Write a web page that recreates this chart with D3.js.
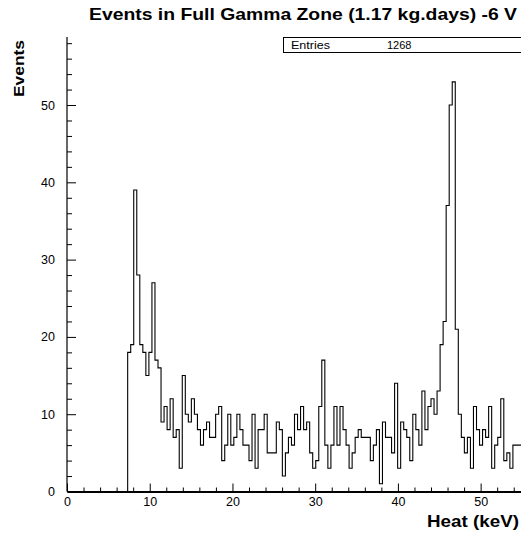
<!DOCTYPE html>
<html><head><meta charset="utf-8">
<script src="https://cdn.jsdelivr.net/npm/d3@7/dist/d3.min.js"></script>
<style>body{margin:0;background:#fff}svg{display:block}</style>
</head><body>
<svg id="chart" width="521" height="535"></svg>
<script>
// ---- data ----
const titleText = "Events in Full Gamma Zone (1.17 kg.days) -6 V";
const xLabel = "Heat (keV)";
const yLabel = "Events";
const xRange = [0, 55];          // histogram axis range (keV)
const nBins = 150;               // number of bins over xRange
const xTicks = [0, 10, 20, 30, 40, 50];
const yTicks = [0, 10, 20, 30, 40, 50];
const entries = 1268;
const binCounts = [
  0,0,0,0,0,0,0,0,0,0, 0,0,0,0,0,0,0,0,0,0,
  18,19,39,28,19,18,15,18,27,17,
  16,9,11,8,12,7,8,3,15,10,
  9,12,10,8,6,8,9,7,7,10,
  11,4,6,10,6,7,10,8,6,6,
  4,10,3,8,8,10,5,5,5,9,
  8,2,5,7,6,10,8,11,8,9,
  5,3,4,11,17,6,3,6,11,6,
  11,8,6,3,5,7,8,7,7,7,
  4,6,8,1,9,7,7,5,14,3,
  9,8,7,4,10,8,6,13,8,11,
  12,10,13,19,22,37,50,53,21,10,
  7,5,7,3,11,8,6,8,7,11,
  3,6,7,12,4,5,3,6,6,6
];

(function () {
// ---- layout ----
const W = 521, H = 535;
const pL = 67, pR = 522, pT = 37, pB = 491.5;
const yMax = 58.8;
const font = "'Liberation Sans', Arial, Helvetica, sans-serif";

const svg = d3.select("#chart");
const x = d3.scaleLinear().domain(xRange).range([pL, pR]);
const y = d3.scaleLinear().domain([0, yMax]).range([pB, pT]);

const binW = (xRange[1] - xRange[0]) / nBins;
const pts = binCounts.map((v, i) => [xRange[0] + i * binW, v]);
pts.push([xRange[0] + nBins * binW, binCounts[binCounts.length - 1]]);

svg.append("clipPath").attr("id", "clip")
  .append("rect").attr("x", pL).attr("y", pT - 2).attr("width", W - pL).attr("height", pB - pT + 2);

svg.append("path")
  .datum(pts)
  .attr("clip-path", "url(#clip)")
  .attr("fill", "none")
  .attr("stroke", "#000")
  .attr("stroke-width", 1.1)
  .attr("d", d3.line().x(d => x(d[0])).y(d => y(d[1])).curve(d3.curveStepAfter));

// ---- axes ----
const xMinor = d3.range(0, 56, 2).filter(v => v % 10 !== 0);
const yMinor = d3.range(0, 59, 2).filter(v => v % 10 !== 0);

const gxMinor = svg.append("g").attr("transform", `translate(0,${pB})`)
  .call(d3.axisBottom(x).tickValues(xMinor).tickSize(-4).tickSizeOuter(0).tickFormat(""));
const gx = svg.append("g").attr("transform", `translate(0,${pB})`)
  .call(d3.axisBottom(x).tickValues(xTicks).tickSize(-8).tickSizeOuter(0).tickPadding(6));
gx.select(".domain").attr("stroke-width", 2);
gxMinor.select(".domain").remove();

const gyMinor = svg.append("g").attr("transform", `translate(${pL},0)`)
  .call(d3.axisLeft(y).tickValues(yMinor).tickSize(-5).tickSizeOuter(0).tickFormat(""));
const gy = svg.append("g").attr("transform", `translate(${pL},0)`)
  .call(d3.axisLeft(y).tickValues(yTicks).tickSize(-9).tickSizeOuter(0).tickPadding(12));
gyMinor.select(".domain").remove();
gy.select(".domain").attr("d", `M0,${pT}V${pB}`).attr("stroke-width", 1.2);

svg.selectAll(".tick text").attr("font-family", font).attr("font-size", 12.5).attr("fill", "#000");
svg.selectAll(".tick line").attr("stroke", "#000");

// ---- stats box ----
const box = svg.append("g");
box.append("rect").attr("x", 283.5).attr("y", 37.5).attr("width", 250).attr("height", 15)
  .attr("fill", "#fff").attr("stroke", "#000").attr("stroke-width", 1);
box.append("text").attr("x", 291).attr("y", 49).attr("font-family", font).attr("font-size", 11)
  .attr("textLength", 39).attr("lengthAdjust", "spacingAndGlyphs")
  .text("Entries");
box.append("text").attr("x", 387).attr("y", 49).attr("font-family", font).attr("font-size", 11)
  .text(entries);

// ---- titles ----
svg.append("text").attr("x", 89).attr("y", 20)
  .attr("font-family", font).attr("font-weight", "bold").attr("font-size", 16.5)
  .attr("textLength", 428).attr("lengthAdjust", "spacingAndGlyphs")
  .text(titleText);
svg.append("text").attr("transform", "translate(24,40) rotate(-90)").attr("text-anchor", "end")
  .attr("font-family", font).attr("font-weight", "bold").attr("font-size", 15.5)
  .attr("textLength", 57).attr("lengthAdjust", "spacingAndGlyphs")
  .text(yLabel);
svg.append("text").attr("x", 519).attr("y", 527).attr("text-anchor", "end")
  .attr("font-family", font).attr("font-weight", "bold").attr("font-size", 16.5)
  .attr("textLength", 92).attr("lengthAdjust", "spacingAndGlyphs")
  .text(xLabel);
})();
</script>
</body></html>
